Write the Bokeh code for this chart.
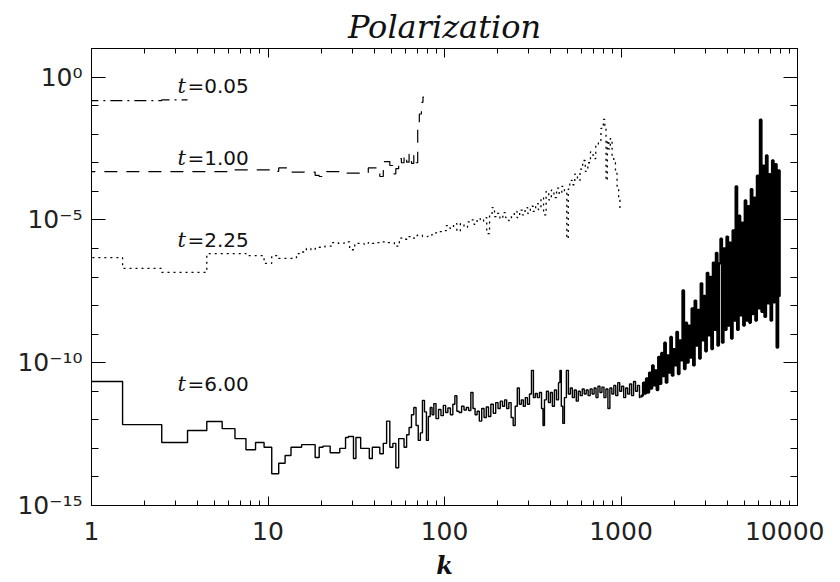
import numpy as np
from bokeh.plotting import figure
from bokeh.models import LogAxis, FixedTicker, Label, Range1d
from bokeh.embed import file_html
from bokeh.resources import INLINE

# ---------------- data ----------------
t005_k = [1, 2, 3]
t005_p = [0.15, 0.15, 0.16]

t100_k = [1, 2, 3, 4, 5, 6, 7, 8, 9, 10, 11, 12, 13, 14, 15, 16, 17, 18, 19, 20,
          21, 22, 24, 26, 28, 30, 32, 34, 36, 38, 40, 42, 44, 46, 48, 50, 52, 54,
          56, 58, 60, 62, 64, 66, 68, 70, 71, 73, 75, 76]
t100_p = [4.9e-4, 4.9e-4, 4.9e-4, 4.9e-4, 4.9e-4, 4.9e-4, 5.6e-4, 5.6e-4, 5.6e-4, 5.6e-4,
          5.0e-4, 6.6e-4, 6.6e-4, 4.7e-4, 4.7e-4, 4.7e-4, 4.7e-4, 4.7e-4, 3.6e-4, 3.3e-4,
          3.6e-4, 4.9e-4, 4.9e-4, 4.9e-4, 4.3e-4, 4.3e-4, 4.3e-4, 4.6e-4, 4.6e-4, 6.6e-4,
          6.6e-4, 4.7e-4, 3.3e-4, 1.1e-3, 1.1e-3, 8.0e-4, 4.1e-4, 6.2e-4, 1.4e-3, 1.0e-3,
          1.8e-3, 1.05e-3, 2.0e-3, 9.5e-4, 1.8e-3, 1.0e-3, 1.55e-2, 5.1e-2, 1.3e-1, 2.0e-1]

t225_k = [1, 2, 3, 4, 5, 6, 7, 8, 9, 10, 11, 12, 13, 14, 15, 16, 17, 18, 19, 20,
          22, 24, 26, 28, 30, 32, 34, 36, 38, 40, 43, 46, 50, 54, 57, 60, 64, 68, 72, 78,
          83, 88, 95, 100, 105, 110, 115, 120, 126, 132, 138, 144, 150, 156, 163, 170, 177,
          183, 189, 195, 202, 210, 218, 226, 235, 244, 253, 262, 271, 281, 291, 301, 312,
          323, 334, 346, 358, 370, 383, 396, 410, 424, 439, 454, 470, 486, 500, 505, 520,
          538, 557, 576, 596, 617, 638, 660, 683, 707, 732, 757, 783, 805, 815, 830, 845,
          860, 880, 900, 920, 940, 960, 980, 992]
t225_p = [4.8e-7, 2.0e-7, 1.45e-7, 1.45e-7, 6.6e-7, 6.6e-7, 6.6e-7, 5.6e-7, 5.6e-7, 3.0e-7,
          5.6e-7, 4.5e-7, 4.5e-7, 4.5e-7, 6.6e-7, 7.5e-7, 1.0e-6, 9.0e-7, 1.0e-6, 1.1e-6,
          1.2e-6, 1.6e-6, 1.5e-6, 1.7e-6, 9.0e-7, 1.5e-6, 1.5e-6, 1.4e-6, 1.6e-6, 1.5e-6,
          1.6e-6, 1.7e-6, 1.6e-6, 1.2e-6, 2.3e-6, 2.1e-6, 2.6e-6, 2.3e-6, 2.9e-6, 2.6e-6,
          3.0e-6, 3.5e-6, 3.9e-6, 4.2e-6, 6.3e-6, 5.0e-6, 7.4e-6, 4.0e-6, 7.4e-6, 5.5e-6,
          8.5e-6, 1.0e-5, 7.0e-6, 1.1e-5, 9.0e-6, 1.2e-5, 3.3e-6, 1.5e-5, 2.7e-5, 1.3e-5,
          1.7e-5, 1.1e-5, 1.8e-5, 1.2e-5, 9.5e-6, 1.4e-5, 2.0e-5, 1.2e-5, 2.2e-5, 1.5e-5,
          2.7e-5, 1.7e-5, 3.0e-5, 2.0e-5, 3.7e-5, 2.3e-5, 6.0e-5, 1.5e-5, 1.0e-4, 5.0e-5,
          1.1e-4, 6.0e-5, 1.3e-4, 8.0e-5, 1.5e-4, 9.0e-5, 2.2e-6, 1.2e-4, 2.4e-4, 1.7e-4,
          4.0e-4, 2.4e-4, 6.0e-4, 1.2e-3, 5.0e-4, 1.0e-3, 2.4e-3, 1.4e-3, 4.0e-3, 6.0e-3,
          1.6e-2, 3.3e-2, 2.0e-2, 2.4e-4, 6.0e-3, 3.0e-3, 7.0e-3, 1.5e-3, 1.0e-3, 4.2e-4,
          1.5e-4, 5.0e-5, 2.0e-5]

t600_k = [1, 2, 3, 4, 5, 6, 7, 8, 9, 10, 11, 12, 13, 14, 15, 16, 17, 18, 19, 20,
          21, 22, 23, 24, 25, 26, 27, 28, 29, 30, 31, 32, 33, 34, 35, 36, 37, 38, 40, 42,
          44, 46, 48, 50, 52, 54, 56, 58, 60, 62, 64, 66, 68, 70, 72, 74, 76, 78, 80, 82,
          84, 86, 88, 91, 94, 97, 100, 103, 106, 110, 113, 116, 119, 123, 127, 131, 135, 139,
          143, 147, 151, 155, 160, 165, 170, 175, 180, 186, 192, 198, 204, 210, 216, 222,
          228, 235, 242, 248, 255, 262, 269, 276, 283, 291, 299, 307, 315, 323, 331, 340,
          350, 359, 364, 373, 383, 393, 403, 414, 425, 437, 448, 454, 464, 472, 484, 497,
          510, 523, 537, 551, 565, 580, 595, 611, 627, 643, 660, 677, 695, 713, 731, 750,
          770, 790, 811, 832, 854, 876, 899, 922, 946, 971, 996, 1022, 1049, 1076, 1104,
          1133, 1163, 1193, 1224, 1256, 1289,
          1320, 1346, 1373, 1400, 1428, 1457, 1486, 1516, 1546, 1577, 1609, 1641, 1674,
          1707, 1741, 1776, 1812, 1848, 1885, 1923, 1961, 2000, 2040, 2081, 2123, 2165,
          2209, 2253, 2298, 2344, 2391, 2439, 2487, 2537, 2588, 2640, 2692, 2746, 2801,
          2857, 2914, 2973, 3032, 3093, 3155, 3218, 3282, 3348, 3415, 3483, 3553, 3624,
          3696, 3770, 3846, 3923, 4001, 4081, 4163, 4246, 4331, 4418, 4506, 4596, 4688,
          4782, 4878, 4975, 5075, 5176, 5280, 5385, 5493, 5603, 5715, 5829, 5946, 6065,
          6186, 6310, 6436, 6565, 6696, 6830, 6967, 7106, 7248, 7393, 7541, 7692, 7846, 8003]
t600_p = [2.2e-11, 6.8e-13, 1.6e-13, 4.2e-13, 8.7e-13, 4.9e-13, 2.2e-13, 9.0e-14, 1.6e-13, 1.1e-13,
          1.3e-14, 3.0e-14, 5.6e-14, 1.1e-13, 1.1e-13, 1.35e-13, 1.35e-13, 1.35e-13, 4.8e-14, 1.1e-13,
          1.2e-13, 1.2e-13, 7.0e-14, 7.0e-14, 7.0e-14, 1.0e-13, 1.0e-13, 2.4e-13, 2.6e-13, 2.6e-13,
          4.4e-14, 2.4e-13, 2.4e-13, 1.0e-13, 1.0e-13, 1.0e-13, 1.0e-13, 4.4e-14, 1.1e-13, 1.1e-13,
          6.5e-14, 1.5e-13, 9.0e-13, 1.1e-13, 1.5e-13, 2.1e-14, 2.2e-13, 2.2e-13, 1.1e-13, 3.0e-13,
          5.4e-13, 1.5e-12, 2.7e-12, 6.3e-13, 1.9e-13, 3.5e-13, 4.8e-12, 1.9e-12, 1.9e-13, 1.3e-12,
          2.7e-12, 1.5e-12, 3.7e-12, 1.1e-12, 2.3e-12, 1.4e-12, 3.2e-12, 1.8e-12, 2.6e-12, 1.5e-12,
          3.5e-12, 7.0e-12, 2.0e-12, 1.8e-12, 3.0e-12, 2.2e-12, 2.7e-12, 2.1e-12,
          9.0e-12, 2.5e-12, 1.5e-12, 2.0e-12, 9.0e-13, 2.5e-12, 1.2e-12, 2.8e-12, 1.3e-12, 3.5e-12,
          1.7e-12, 4.0e-12, 2.5e-12, 4.5e-12, 3.0e-12, 5.0e-12,
          2.5e-12, 4.0e-12, 1.2e-12, 6.3e-13, 3.0e-12, 1.3e-11, 3.5e-12, 5.0e-12, 3.0e-12, 6.0e-12,
          3.5e-12, 8.0e-12, 5.4e-11, 6.0e-12, 8.3e-12, 6.0e-12,
          9.0e-12, 2.5e-12, 6.3e-13, 5.0e-12, 1.0e-11, 4.0e-12, 9.0e-12, 3.0e-12, 1.1e-11, 5.0e-12,
          2.0e-11, 5.4e-11, 3.0e-12, 7.5e-13, 6.0e-12, 5.4e-11,
          8.0e-12, 1.3e-11, 6.0e-12, 1.1e-11, 4.5e-12, 1.0e-11, 7.0e-12, 1.2e-11, 8.0e-12, 1.1e-11,
          7.0e-12, 1.2e-11, 8.0e-12, 1.3e-11, 6.0e-12, 1.5e-11,
          9.0e-12, 1.4e-11, 6.0e-12, 1.2e-11, 2.5e-12, 1.3e-11, 8.0e-12, 1.6e-11, 7.0e-12, 2.0e-11,
          1.0e-11, 1.5e-11, 6.0e-12, 1.3e-11, 8.0e-12,
          1.8e-11, 7.0e-12, 2.2e-11, 1.0e-11, 1.6e-11, 6.0e-12,
          7.0e-12, 2.0e-11, 8.3e-12, 2.8e-11, 9.0e-12, 4.5e-11, 1.25e-11, 8.0e-11, 1.6e-11, 5.4e-11,
          1.1e-11, 1.6e-10, 1.8e-11, 2.2e-10, 3.4e-11, 5.0e-10, 2.0e-11, 1.8e-10, 4.5e-11, 8.0e-10,
          3.5e-11, 3.0e-10, 8.0e-11, 1.2e-9, 4.0e-11, 6.0e-10, 1.2e-10, 3.4e-8, 6.0e-11, 2.5e-9,
          1.0e-10, 2.0e-9, 1.5e-10, 8.0e-9, 8.0e-11, 1.5e-8, 4.0e-10, 7.0e-9, 1.4e-10, 6.0e-8,
          6.0e-10, 2.2e-8, 2.5e-10, 1.4e-7, 9.0e-10, 1.0e-7, 3.0e-10, 3.2e-7, 1.4e-9, 7.0e-7,
          4.0e-10, 3.0e-7, 2.2e-6, 5.0e-10, 1.0e-6, 1.4e-9, 2.6e-6, 2.0e-9, 1.6e-6, 7.0e-10,
          4.3e-6, 3.0e-9, 1.5e-4, 1.4e-9, 1.4e-5, 4.5e-9, 8.0e-6, 2.0e-9, 4.8e-5, 3.0e-9,
          3.0e-5, 2.5e-9, 1.2e-4, 5.0e-9, 6.0e-5, 3.0e-9, 3.5e-4, 8.0e-9, 3.2e-2, 6.0e-9,
          7.9e-4, 4.0e-9, 1.8e-3, 1.2e-8, 4.0e-4, 3.0e-9, 1.2e-3, 1.3e-8, 9.0e-4, 3.4e-10,
          5.4e-4, 2.2e-8]

x_ticks = [1, 10, 100, 1000, 10000]
x_tick_labels = ["1", "10", "100", "1000", "10000"]
y_ticks = [1e-15, 1e-10, 1e-5, 1e0]
y_tick_labels = ["10\u207b\u00b9\u2075", "10\u207b\u00b9\u2070", "10\u207b\u2075", "10\u2070"]
x_minor = [m * d for d in [1, 10, 100, 1000] for m in range(2, 10)]
y_minor = [10.0 ** e for e in range(-15, 2) if e % 5 != 0]

series_labels = ["0.05", "1.00", "2.25", "6.00"]

# ---------------- helpers ----------------
def steps(k, v):
    k = np.asarray(k, float)
    v = np.asarray(v, float)
    edges = np.empty(len(k) + 1)
    edges[1:-1] = (k[:-1] + k[1:]) / 2.0
    edges[0] = k[0] - 0.5
    edges[-1] = k[-1] + 0.5
    xs = np.repeat(edges, 2)[1:-1]
    ys = np.repeat(v, 2)
    return xs, ys

# frame geometry (px)
FW, FH = 706, 457
BL, BR, BT, BB = 91, 27, 48, 77

p = figure(frame_width=FW, frame_height=FH,
           min_border_left=BL, min_border_right=BR, min_border_top=BT, min_border_bottom=BB,
           x_axis_type="log", y_axis_type="log",
           x_range=Range1d(1, 10000), y_range=Range1d(1e-15, 1e1),
           output_backend="svg", toolbar_location=None,
           background_fill_color="white", border_fill_color="white")
p.xgrid.visible = False
p.ygrid.visible = False
p.outline_line_color = "black"
p.outline_line_width = 1

p.title.text = "Polarization"
p.title.align = "center"
p.title.text_font = "DejaVu Serif"
p.title.text_font_style = "italic"
p.title.text_font_size = "32px"
p.title.text_color = "#111111"
p.title.standoff = 6

xt = FixedTicker(ticks=x_ticks, minor_ticks=x_minor)
yt = FixedTicker(ticks=y_ticks, minor_ticks=y_minor)

TICK_FONT = "DejaVu Sans"

def style_common(ax, major_in, minor_in):
    ax.axis_line_color = "black"
    ax.major_tick_line_color = "black"
    ax.minor_tick_line_color = "black"
    ax.major_tick_in = major_in
    ax.major_tick_out = 0
    ax.minor_tick_in = minor_in
    ax.minor_tick_out = 0

def hide_labels(ax):
    ax.major_label_text_font_size = "1px"
    ax.major_label_text_alpha = 0
    ax.major_label_standoff = 0

ax = p.xaxis[0]
ax.ticker = xt
style_common(ax, 9, 5)
ax.major_label_overrides = dict(zip(x_ticks, x_tick_labels))
ax.major_label_text_font = TICK_FONT
ax.major_label_text_font_size = "25px"
ax.major_label_text_color = "#222222"
ax.major_label_standoff = 16
ax.axis_label = "k"
ax.axis_label_text_font = "DejaVu Serif"
ax.axis_label_text_font_style = "bold italic"
ax.axis_label_text_font_size = "24px"
ax.axis_label_text_color = "#111111"
ax.axis_label_standoff = 8

ax = p.yaxis[0]
ax.ticker = yt
style_common(ax, 14, 7)
ax.major_label_overrides = dict(zip(y_ticks, y_tick_labels))
ax.major_label_text_font = TICK_FONT
ax.major_label_text_font_size = "25px"
ax.major_label_text_color = "#222222"
ax.major_label_standoff = 9

top = LogAxis(ticker=xt)
style_common(top, 9, 5)
hide_labels(top)
right = LogAxis(ticker=yt)
style_common(right, 14, 7)
hide_labels(right)
p.add_layout(top, "above")
p.add_layout(right, "right")

# ---------------- curves ----------------
x, y = steps(t005_k, t005_p)
p.line(x, y, line_color="black", line_width=1.2, line_dash="12 5 2 5")
x, y = steps(t100_k, t100_p)
p.line(x, y, line_color="black", line_width=1.2, line_dash="13 9")
x, y = steps(t225_k, t225_p)
p.line(x, y, line_color="black", line_width=1.3, line_dash="2 4")

# the t=6.00 spectrum: sparse part thin, the dense high-k band drawn thicker
split = t600_k.index(1289)
x, y = steps(t600_k[:split + 1], t600_p[:split + 1])
p.line(x, y, line_color="black", line_width=1.4)
x, y = steps(t600_k[split:], t600_p[split:])
p.line(x[1:], y[1:], line_color="black", line_width=2.3)

# ---------------- annotations ----------------
lab_x = 3.07
lab_y = [0.47, 1.52e-3, 1.9e-6, 1.73e-11]
for ly, s in zip(lab_y, series_labels):
    p.add_layout(Label(x=lab_x, y=ly, text="t", text_font="DejaVu Serif",
                       text_font_style="italic", text_font_size="21px",
                       text_color="#111111", text_baseline="alphabetic"))
    p.add_layout(Label(x=lab_x, y=ly, x_offset=10, text="=" + s, text_font="DejaVu Sans",
                       text_font_size="20px", text_color="#111111",
                       text_baseline="alphabetic"))

open("out.html", "w").write(file_html(p, INLINE))
